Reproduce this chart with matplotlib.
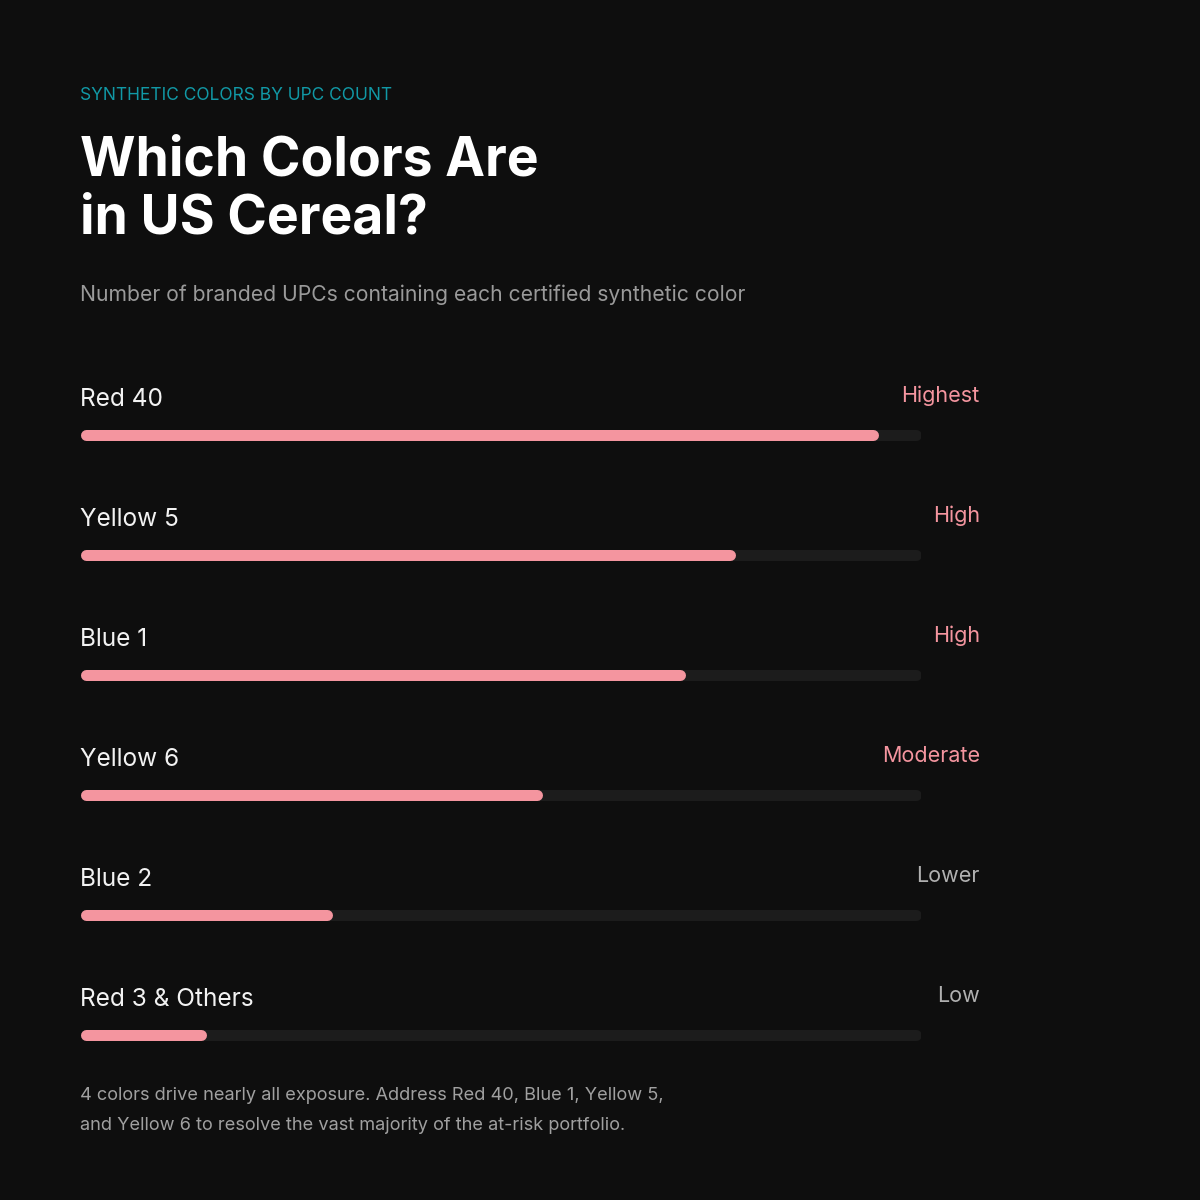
import matplotlib
matplotlib.use("Agg")
import matplotlib.pyplot as plt

# ── DATA ──────────────────────────────────────────────────────────────────────
colors_names = ["Red 40", "Yellow 5", "Blue 1", "Yellow 6", "Blue 2", "Red 3 & Others"]
upc_share = [95, 78, 72, 55, 30, 15]          # % of the track
levels = ["Highest", "High", "High", "Moderate", "Lower", "Low"]
level_hot = [True, True, True, True, False, False]

BG = "#0e0e0e"
TRACK = "#1c1c1c"
PINK = "#f4959f"
TEAL = "#1199a6"
FONT = "Inter"

W = H = 1200
fig = plt.figure(figsize=(12, 12), dpi=100)
fig.patch.set_facecolor(BG)

# overlay in pixel coordinates for the heading text
top = fig.add_axes([0, 0, 1, 1])
top.set_xlim(0, W)
top.set_ylim(H, 0)
top.axis("off")

top.text(80, 99.5, "SYNTHETIC COLORS BY UPC COUNT", color=TEAL, fontsize=12.5,
         family=FONT, va="baseline")
top.text(80, 175, "Which Colors Are", color="white", fontsize=38.5,
         family=FONT, weight="bold", va="baseline")
top.text(80, 233, "in US Cereal?", color="white", fontsize=38.5,
         family=FONT, weight="bold", va="baseline")
top.text(80, 301, "Number of branded UPCs containing each certified synthetic color",
         color="#9a9a9a", fontsize=15.2, family=FONT, va="baseline")
top.text(80, 1099.5, "4 colors drive nearly all exposure. Address Red 40, Blue 1, Yellow 5,",
         color="#a0a0a0", fontsize=13.1, family=FONT, va="baseline")
top.text(80, 1129.5, "and Yellow 6 to resolve the vast majority of the at-risk portfolio.",
         color="#a0a0a0", fontsize=13.1, family=FONT, va="baseline")

# ── BARS ──────────────────────────────────────────────────────────────────────
track_px = 841
row_px = 120
ax = fig.add_axes([80 / W, (H - 1045) / H, track_px / W, 620 / H])
ax.set_facecolor("none")
ax.set_xlim(0, 100)
ax.set_ylim(5 + 10 / row_px, -10 / row_px)
ax.axis("off")

lw_px = 11
r = (lw_px / 2) * 100 / track_px    # round cap overhang in data units
lw = lw_px * 0.72

for i, (name, v, lev, hot) in enumerate(zip(colors_names, upc_share, levels, level_hot)):
    ax.plot([r, 100 - r], [i, i], color=TRACK, lw=lw, solid_capstyle="round")
    ax.plot([r, v - r], [i, i], color=PINK, lw=lw, solid_capstyle="round")
    ax.text(0, i - 29 / row_px, name, color="#f2f2f2", fontsize=17.6, family=FONT,
            va="baseline", ha="left", clip_on=False)
    ax.text(107.0, i - 33 / row_px, lev, color=PINK if hot else "#b0b0b0",
            fontsize=15.5, family=FONT, va="baseline", ha="right", clip_on=False)

fig.savefig("out.png", dpi=100, facecolor=BG)
